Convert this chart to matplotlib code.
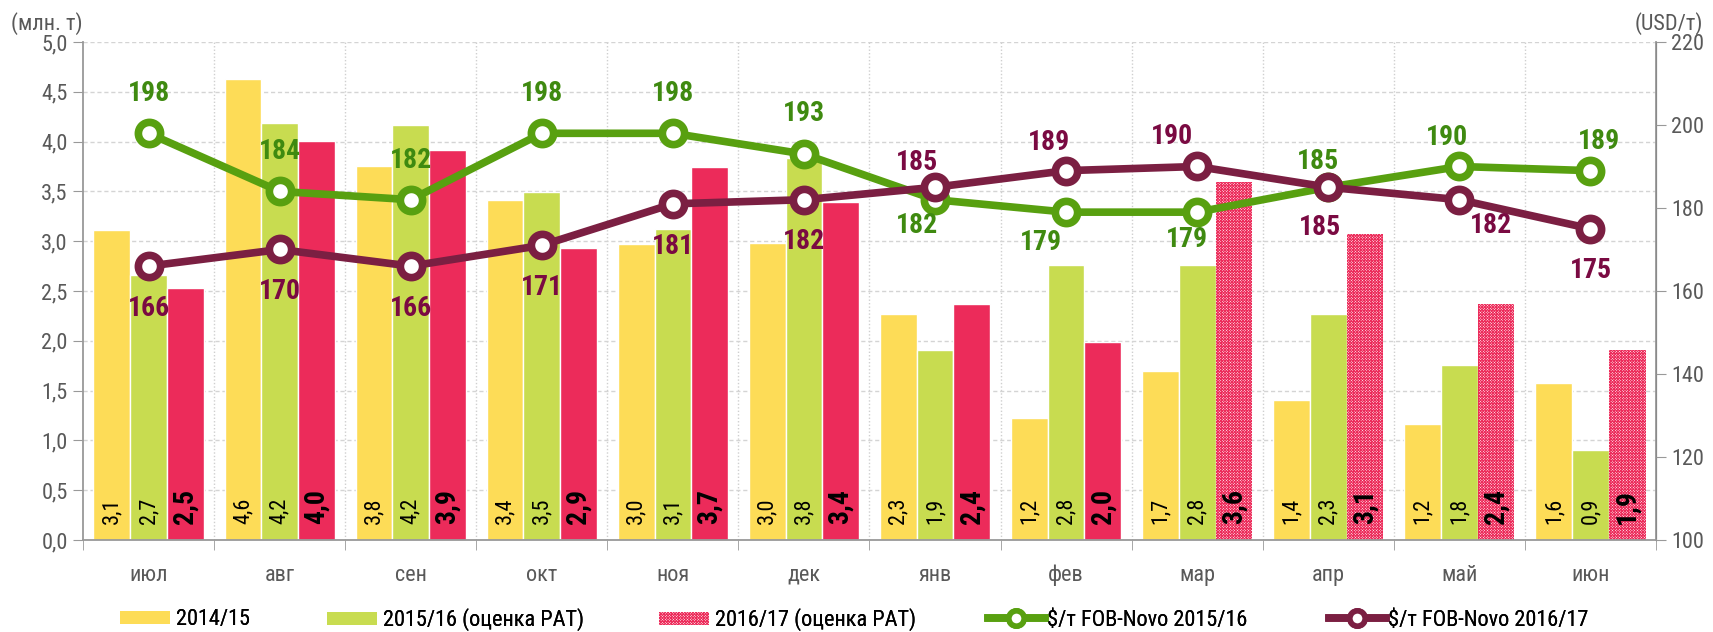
import numpy as np
import matplotlib
matplotlib.use("Agg")
import matplotlib.pyplot as plt
from matplotlib.patches import Patch
from matplotlib.lines import Line2D

# narrow face close to the original (Arial Narrow); falls back if missing
plt.rcParams["font.family"] = ["Roboto Condensed", "PT Sans Narrow", "Liberation Sans", "DejaVu Sans"]
plt.rcParams["hatch.linewidth"] = 0.7

months = ["июл", "авг", "сен", "окт", "ноя", "дек", "янв", "фев", "мар", "апр", "май", "июн"]
exp_1415 = [3.11, 4.63, 3.75, 3.41, 2.97, 2.98, 2.27, 1.22, 1.70, 1.41, 1.16, 1.58]
exp_1516 = [2.66, 4.19, 4.17, 3.49, 3.12, 3.84, 1.91, 2.76, 2.76, 2.27, 1.76, 0.90]
exp_1617 = [2.53, 4.01, 3.92, 2.93, 3.74, 3.39, 2.37, 1.99, 3.59, 3.07, 2.37, 1.91]
first_estimate = 8  # from мар the 2016/17 bars are estimates (hatched)
price_1516 = [198, 184, 182, 198, 198, 193, 182, 179, 179, 185, 190, 189]
price_1617 = [166, 170, 166, 171, 181, 182, 185, 189, 190, 185, 182, 175]
left_ticks = np.arange(0, 5.01, 0.5)
right_ticks = np.arange(100, 221, 20)
legend_labels = ["2014/15", "2015/16 (оценка РАТ)", "2016/17 (оценка РАТ)",
                 "$/т FOB-Novo 2015/16", "$/т FOB-Novo 2016/17"]

YELLOW = "#fddc57"
LGREEN = "#c8dc50"
RED = "#ec2b5a"
GREEN = "#58a010"
MAROON = "#7b1f42"
GREEN_TXT = "#3f8a10"
MAROON_TXT = "#7a0a42"
GREY = "#595959"
HATCH = "x" * 12

# label offsets (pixels) for the price labels: (dx, dy)
off_1516 = [(0, 40), (0, 40), (0, 39), (0, 40), (0, 40), (0, 41),
            (-18, -26), (-25, -30), (-10, -27), (-10, 26), (-12, 29), (9, 29)]
off_1617 = [(0, -42), (0, -42), (0, -42), (0, -42), (0, -43), (0, -42),
            (-18, 25), (-17, 28), (-25, 30), (-8, -40), (32, -26), (0, -42)]

fig = plt.figure(figsize=(17.13, 6.32), dpi=100)
ax = fig.add_axes([83 / 1713, 92 / 632, (1656 - 83) / 1713, (540 - 42) / 632])
ax2 = ax.twinx()

x = np.arange(len(months))
w = 0.28
ax.bar(x - w, exp_1415, w, color=YELLOW, edgecolor="white", linewidth=1, zorder=2)
ax.bar(x, exp_1516, w, color=LGREEN, edgecolor="white", linewidth=1, zorder=2)
solid = x < first_estimate
ax.bar(x[solid] + w, np.array(exp_1617)[solid], w, color=RED, edgecolor="white",
       linewidth=1, zorder=2)
ax.bar(x[~solid] + w, np.array(exp_1617)[~solid], w, facecolor="white", edgecolor=RED,
       hatch=HATCH, linewidth=0, zorder=2)


def fmt(v):
    return f"{v:.1f}".replace(".", ",")


for i in range(len(months)):
    for dx, vals, bold in [(-w, exp_1415, False), (0, exp_1516, False), (w, exp_1617, True)]:
        ax.annotate(fmt(vals[i]), (x[i] + dx, 0), xytext=(0, 16), textcoords="offset pixels",
                    rotation=90, ha="center", va="bottom", color="black",
                    fontsize=20 if bold else 16, fontweight="bold" if bold else "normal",
                    zorder=3)

ax.set_xlim(-0.5, len(months) - 0.5)
ax.set_ylim(0, 5)
ax.set_yticks(left_ticks)
ax.set_yticklabels([fmt(t) for t in left_ticks])
ax.set_xticks(x)
ax.set_xticklabels(months)
ax.set_xticks(np.arange(-0.5, len(months), 1), minor=True)
ax.tick_params(axis="x", which="major", length=0, pad=18, labelsize=16, labelcolor=GREY)
ax.tick_params(axis="x", which="minor", length=7, color="#999999", direction="out")
ax.tick_params(axis="y", length=7, color="#999999", labelsize=16, labelcolor=GREY, pad=4)
ax.set_axisbelow(True)
ax.yaxis.grid(True, linestyle=(0, (3, 2)), color="#d4d4d4", linewidth=1)
for b in np.arange(0.5, len(months) - 0.5, 1):
    ax.axvline(b, color="#cfcfcf", linestyle=(0, (1, 1.5)), linewidth=1, zorder=0)
ax.spines["top"].set_visible(False)
ax2.spines["top"].set_visible(False)
for s in ["left", "bottom"]:
    ax.spines[s].set_color("#999999")
    ax.spines[s].set_linewidth(1.3)
ax2.spines["right"].set_color("#999999")
ax2.spines["right"].set_linewidth(1.3)
ax2.spines["left"].set_visible(False)
ax2.spines["bottom"].set_visible(False)

ax2.set_ylim(100, 220)
ax2.set_yticks(right_ticks)
ax2.tick_params(axis="y", length=7, color="#999999", labelsize=16, labelcolor=GREY, pad=4)

ax2.plot(x, price_1516, color=GREEN, linewidth=5.5, marker="o", markersize=16,
         markerfacecolor="white", markeredgecolor=GREEN, markeredgewidth=5.5, zorder=3)
ax2.plot(x, price_1617, color=MAROON, linewidth=5.5, marker="o", markersize=16,
         markerfacecolor="white", markeredgecolor=MAROON, markeredgewidth=5.5, zorder=4)

for i in range(len(months)):
    ax2.annotate(str(price_1516[i]), (x[i], price_1516[i]), xytext=off_1516[i],
                 textcoords="offset pixels", ha="center", va="center",
                 fontsize=20, fontweight="bold", color=GREEN_TXT, zorder=5)
    ax2.annotate(str(price_1617[i]), (x[i], price_1617[i]), xytext=off_1617[i],
                 textcoords="offset pixels", ha="center", va="center",
                 fontsize=20, fontweight="bold", color=MAROON_TXT, zorder=5)

fig.text(11 / 1713, 1 - 24 / 632, "(млн. т)", ha="left", va="center", fontsize=16, color=GREY)
fig.text(1703 / 1713, 1 - 24 / 632, "(USD/т)", ha="right", va="center", fontsize=16, color=GREY)

handles = [
    Patch(facecolor=YELLOW, edgecolor="none"),
    Patch(facecolor=LGREEN, edgecolor="none"),
    Patch(facecolor="white", edgecolor=RED, hatch=HATCH, linewidth=0),
    Line2D([], [], color=GREEN, linewidth=5.5, marker="o", markersize=11,
           markerfacecolor="white", markeredgecolor=GREEN, markeredgewidth=4),
    Line2D([], [], color=MAROON, linewidth=5.5, marker="o", markersize=11,
           markerfacecolor="white", markeredgecolor=MAROON, markeredgewidth=4),
]
legend_x = [120, 327, 659, 988, 1329]
for k, (h, lab, lx) in enumerate(zip(handles, legend_labels, legend_x)):
    is_line = k >= 3
    leg = fig.legend([h], [lab], loc="center left", bbox_to_anchor=(lx / 1713, 1 - 620 / 632),
                     frameon=False, fontsize=16,
                     handlelength=2.55 if is_line else 2.25, handleheight=0.5,
                     handletextpad=0.12 if is_line else 0.28, borderaxespad=0, borderpad=0)
    fig.add_artist(leg)

fig.savefig("out.png", dpi=100)
